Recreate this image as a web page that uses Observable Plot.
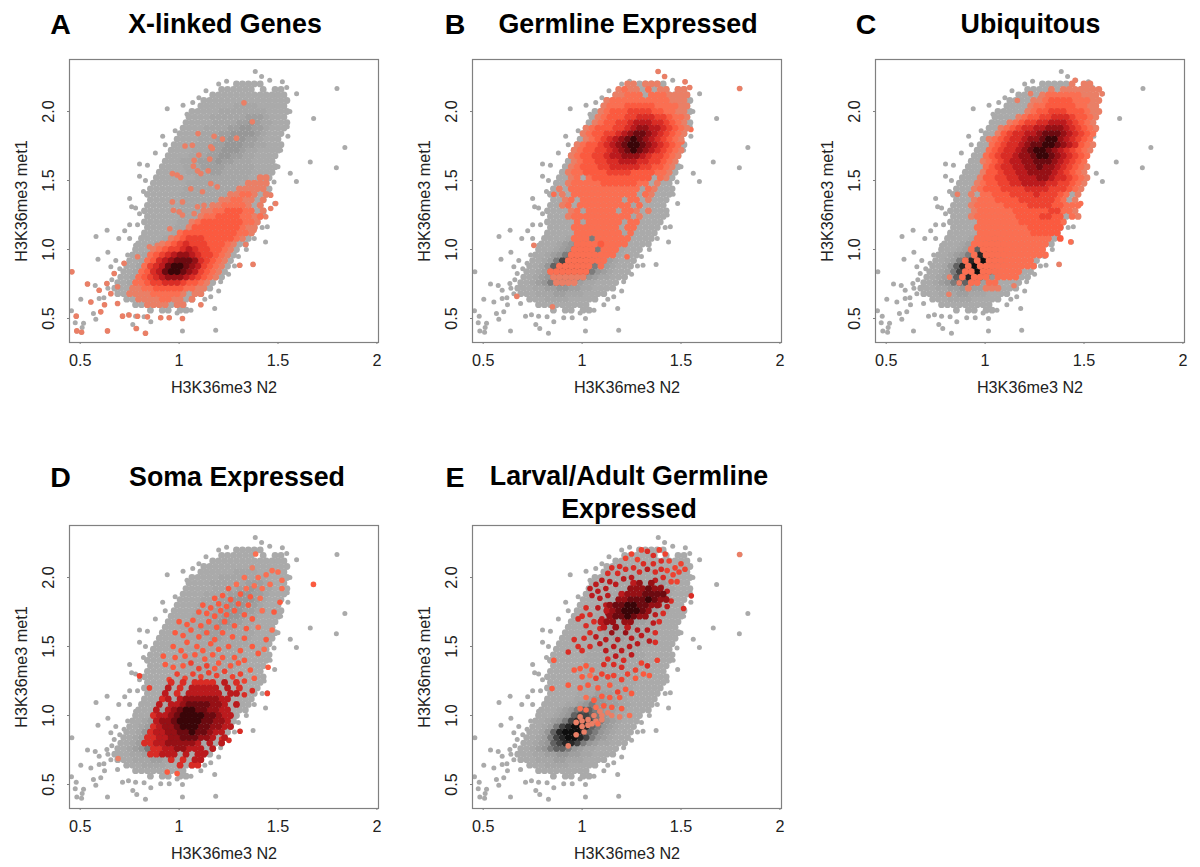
<!DOCTYPE html>
<html><head><meta charset="utf-8">
<script src="https://cdn.jsdelivr.net/npm/d3@7"></script>
<script src="https://cdn.jsdelivr.net/npm/@observablehq/plot@0.6"></script>
<style>
html,body{margin:0;padding:0;background:#fff;overflow:hidden}
#page{position:relative;width:1200px;height:867px;font-family:"Liberation Sans",Arial,sans-serif}
.t{position:absolute;font-weight:bold;font-size:26.8px;line-height:33px;color:#000;white-space:pre;transform:translate(-50%,-50%);text-align:center}
.l{font-size:28.5px}
#page svg{position:absolute;overflow:visible}
</style></head><body><div id="page"></div>
<script>
const xTicks=[0.5,1,1.5,2], yTicks=[0.5,1,1.5,2];
const xLabel="H3K36me3 N2", yLabel="H3K36me3 met1";
const panelLetters=["A","B","C","D","E"];
const panelTitles=["X-linked Genes","Germline Expressed","Ubiquitous","Soma Expressed","Larval/Adult Germline\nExpressed"];
const grayColors=["#aaaaaa","#a6a6a6","#9f9f9f","#979797","#7c7c7c","#626262","#444444","#262626","#0e0e0e"];
const redColors=["#ea7f66","#fa6f52","#fb5a3f","#ee4230","#d92c25","#bb1a1d","#961015","#6c0a10","#3a0508"];

// density rows: [y, first x, one level per 0.03 of x]
const baseRows=[
[.56,.855,"1011011"],[.60,.78,"111111111"],[.64,.735,"111222211111"],[.68,.69,"111222332221111"],
[.72,.675,"11122334433221111"],[.76,.69,"11234566543221111"],[.80,.705,"112346788754322111"],
[.84,.72,"112357899875432111"],[.88,.735,"112468999865432111"],[.92,.75,"112357899865432111"],
[.96,.765,"112345788765432111"],[1.00,.78,"111234677654322111"],[1.04,.795,"1112345665433221111"],
[1.08,.81,"1111223454433221111"],[1.12,.825,"1111122344332211111"],[1.16,.84,"1111122233322211111"],
[1.20,.825,"11111122222222211111"],[1.24,.84,"11111122222222211111"],[1.28,.825,"111111222222222211111"],
[1.32,.84,"11111122222222211111"],[1.36,.855,"11111122222222211111"],[1.40,.84,"111111222222222211111"],
[1.44,.855,"111111222222222211111"],[1.48,.87,"11111122222222211111"],[1.52,.885,"11111112222222221111"],
[1.56,.90,"11111222233222221111"],[1.60,.915,"11112223333222221111"],[1.64,.93,"1112223334332221111"],
[1.68,.945,"1111222334433221111"],[1.72,.96,"1111222334443221111"],[1.76,.975,"1111222334443322111"],
[1.80,.99,"111122233444332111"],[1.84,1.005,"111122233444432111"],[1.88,1.02,"111122223344332111"],
[1.92,1.035,"111112222334322111"],[1.96,1.05,"11112222223332111"],[2.00,1.065,"11111222222221111"],
[2.04,1.11,"111111222211111"],[2.08,1.125,"111111111111111"],[2.12,1.17,"1111111111111"],
[2.16,1.215,"11111101011"],[2.20,1.29,"11111"]];
const baseDots=[
[1.798,2.167],[1.795,1.592],[1.838,1.739],[1.68,1.95],[1.663,1.635],[1.594,2.128],[1.562,1.553],[1.593,1.493],
[1.385,2.29],[1.417,2.254],[1.458,2.227],[1.522,2.215],[1.544,2.174],[1.2,2.2],[1.136,2.15],[1.069,2.065],
[1.02,2.046],[.94,2.02],[.917,1.82],[.8,1.62],[.84,1.61],[.8,1.53],[.76,1.31],[.75,1.37],[.8,1.26],[.75,1.18],
[.636,1.14],[.58,1.094],[.725,1.135],[.695,1.08],[.75,1.08],[.78,1.03],[.64,.98],[.59,.93],[.68,.92],[.655,.875],
[.458,.838],[.537,.75],[.576,.74],[.596,.705],[.635,.754],[.503,.64],[.554,.62],[.623,.6],[.596,.645],[.567,.536],
[.604,.548],[.579,.495],[.456,.556],[.48,.517],[.475,.47],[.517,.465],[.51,.435],[.483,.41],[.507,.4],[.638,.41],
[.766,.457],[.786,.427],[.83,.393],[.857,.476],[.714,.517],[.744,.528],[.78,.516],[.823,.512],[.907,.505],[.95,.505],
[1.017,.5],[1.017,.41],[1.185,.415],[1.18,.572],[1.11,.6],[1.16,.657],[1.21,.766],[1.25,.82],[1.308,.886],[1.374,.892],
[1.437,1.055],[1.42,1.16],[1.446,1.165],[1.483,1.333],[1.48,1.49],[1.547,1.89],[1.513,1.72],[.672,.826],[.689,.73],
[.655,.68],[.689,.609],[.722,.9],[.79,.947],[.66,.78],[.64,.72],[.62,.65],[.7,.86],[.74,.96],[.82,1.1],[.79,1.18],
[.78,1.3],[.82,1.42],[.83,1.5],[.88,1.7],[.93,1.76],[.98,1.86],[1.04,1.98],[1.1,2.1],[1.24,2.22],[1.48,2.12],[1.56,2.0],
[1.55,1.82],[1.5,1.6],[1.46,1.4],[1.43,1.25],[1.38,1.08],[1.34,1.0],[1.3,.95],[1.28,.88],[1.2,.7],[1.13,.64],[1.06,.56],[.99,.54]];

const rowsA=[
[.60,.84,"1111011"],[.64,.795,"1111221101"],[.68,.75,"1111222221011"],[.72,.765,"1122333332211"],
[.76,.78,"2234455543321"],[.80,.795,"23456777654321"],[.84,.81,"23568998764321"],[.88,.825,"24568998764321"],
[.92,.84,"23567888754321"],[.96,.855,"23456776544321"],[1.00,.87,"12344565443321"],[1.04,.915,"1234544433321"],
[1.08,.96,"1234443333321"],[1.12,1.005,"2333333333221"],[1.16,1.05,"133333333211"],[1.20,1.065,"123333333221"],
[1.24,1.11,"12233332212"],[1.28,1.125,"11223332201"],[1.32,1.17,"112222101"],[1.36,1.215,"11221101"],
[1.40,1.26,"1122101"],[1.44,1.305,"11111"],[1.48,1.35,"1111"],[1.52,1.41,"11"]];
const dotsA=[
[1.328,2.063,1],[1.37,1.925,1],[1.29,1.807,1],[1.219,1.8,1],[1.177,1.82,1],[1.096,1.84,1],[1.03,1.75,1],[1.067,1.756,1],
[1.16,1.744,1],[1.168,1.732,1],[1.1,1.684,1],[1.155,1.655,1],[1.076,1.647,1],[1.072,1.604,1],[1.093,1.57,1],[1.11,1.55,1],
[1.147,1.57,1],[.966,1.55,1],[.99,1.54,1],[1.008,1.522,1],[1.059,1.44,1],[1.118,1.418,1],[1.16,1.478,1],[1.193,1.454,1],
[.966,1.345,1],[1.017,1.345,1],[.971,1.285,1],[1,1.273,1],[1.017,1.25,1],[1.093,1.31,1],[1.126,1.32,1],[1.076,1.26,1],
[.953,1.15,1],[1.463,1.297,1],[1.488,1.333,1],[1.463,1.394,1],[1.438,1.237,1],[1.379,1.14,1],[1.337,1.036,1],[1.306,.886,1],
[1.374,.892,1],[.458,.838,1],[.48,.517,1],[.483,.41,1],[.507,.4,1],[.638,.41,1],[.783,.427,1],[.83,.393,1],[.554,.62,1],
[.537,.75,1],[.596,.705,1],[.635,.754,1],[.623,.6,1],[.604,.548,1],[.714,.517,1],[.747,.525,1],[.79,.516,1],[.84,.512,1],
[.907,.505,1],[.95,.505,1],[1.017,.5,1],[1.11,.6,1],[.672,.826,1],[.689,.73,1],[.655,.68,1],[.689,.609,1],[.722,.9,1],
[.79,.947,1],[.85,1.02,1],[.89,1.03,1]];

const rowsB=[
[.76,.87,"1111"],[.80,.855,"111111"],[.84,.84,"2222222"],[.88,.885,"22222202"],[.92,.93,"2222222"],[.96,.945,"22222222"],
[1.00,.96,"22220222"],[1.04,.975,"222232222"],[1.08,.96,"2220222222"],[1.12,.975,"2222222202"],[1.16,.96,"22222222022"],
[1.20,.975,"20222222022"],[1.24,.93,"1222222222201"],[1.28,.945,"12022222022101"],[1.32,.90,"12022222222202"],
[1.36,.915,"120222222202201"],[1.40,.90,"1022222222222021"],[1.44,.885,"10222222222222021"],[1.48,.93,"1222223333332201"],
[1.52,.945,"12023333333333021"],[1.56,.93,"122333344443333221"],[1.60,.945,"123334455555443321"],[1.64,.96,"123344556665544321"],
[1.68,.945,"1233445667776544321"],[1.72,.96,"1233445678987654321"],[1.76,.975,"123345678998765432"],[1.80,1.02,"12345678987654321"],
[1.84,1.005,"123344567887654321"],[1.88,1.02,"123334456776654321"],[1.92,1.065,"1233445666554321"],[1.96,1.08,"1233344555443221"],
[2.00,1.095,"123334444332211"],[2.04,1.11,"122233333222211"],[2.08,1.125,"12222222222111"],[2.12,1.17,"1122202221111"],
[2.16,1.185,"121102011011"],[2.20,1.23,"110111"]];
const dotsB=[[1.796,2.167,1],[1.384,2.29,1],[1.417,2.254,1],[1.52,2.215,1],[1.544,2.174,1],[1.55,1.87,2],[1.505,1.78,2],[.756,1.03,1],[.67,.66,1],[.85,.585,1],[1.227,.947,2],[.857,1.40,2]];

const rowsC=[
[.72,.915,"100111"],[.76,.93,"22022"],[.80,.885,"2022202222"],[.84,.90,"2202222222"],[.88,.915,"202222222222"],[.92,.90,"202022222222"],
[.96,.945,"2022222222222"],[1.00,.93,"2022222222222"],[1.04,.945,"2222222222222"],[1.08,.96,"222222222222203"],[1.12,.975,"22222222233333"],
[1.16,.96,"222222222333333"],[1.20,.975,"2222222333333320"],[1.24,.93,"1222222233334433021"],[1.28,.945,"122222233333344221"],
[1.32,.93,"1222223333444433222"],[1.36,.945,"122233334444443201"],[1.40,.93,"1022333444454443201"],[1.44,.945,"1233344445555444321"],
[1.48,.96,"1233445566665544321"],[1.52,.975,"1334455666776554321"],[1.56,.99,"133455667777654321"],[1.60,1.005,"234556677877654321"],
[1.64,.99,"123456677888765432"],[1.68,1.005,"234556778998765432"],[1.72,1.02,"234556789987654321"],[1.76,1.035,"234556788998765321"],
[1.80,1.02,"123455677899765432"],[1.84,1.065,"13455667888765432"],[1.88,1.08,"12345566777654321"],[1.92,1.125,"123445566654321"],
[1.96,1.17,"12334455543321"],[2.00,1.215,"1233444333211"],[2.04,1.23,"122333332211"],[2.08,1.245,"112333322211"],[2.12,1.29,"1222222111"],
[2.16,1.335,"101111111"],[2.20,1.44,"1011"]];
const dotsC=[[1.591,2.128,1],[1.455,2.227,1],[1.374,.892,1],[1.433,1.055,2],[1.483,1.333,2],[1.478,1.49,3],[.86,1.40,1],[.817,.676,1],[1.146,.737,1],[.82,.8,1],[.869,.758,1],[1.559,1.87,2],[1.163,2.08,1],[1.23,2.13,1],[1.28,2.1,1],[1.33,2.13,1]];

const rowsD=[
[.64,1.005,"5055"],[.68,.96,"505066"],[.72,.855,"5566606066"],[.76,.87,"55667766606"],[.80,.825,"55667777760606"],[.84,.84,"55667788877606"],
[.88,.855,"56677889887660"],[.92,.87,"56778999887766"],[.96,.885,"6778999988776"],[1.00,.87,"56678999988766"],[1.04,.885,"6067899887766"],
[1.08,.90,"60667888877606"],[1.12,.915,"5606777777660"],[1.16,.93,"6050666666066"],[1.20,.945,"60506666606050"],[1.24,.96,"5050555506050"]];
const dotsD=[[1.679,1.95,3],[1.446,1.16,4],[1.308,.886,5],[1.252,.82,5],[1.215,.83,5],[1.135,.73,6],[.692,.688,1],[.94,.59,3],[.99,.58,3],[.8,1.287,4],[.85,1.2,4],[1.387,2.17,2],[1.45,1.35,3],[1.33,1.15,5],[1.37,1.18,5],
[.95,1.26,4],[.99,1.3,4],[1.03,1.27,4],[1.07,1.3,4],[1.11,1.28,4],[1.15,1.31,4],[1.19,1.29,4],[1.23,1.32,4],[1.27,1.28,4],[1.31,1.3,4],[1.36,1.33,3],[1.33,1.25,4],[1.38,1.27,3],[.97,1.35,3],[1.02,1.36,3],[1.06,1.38,4],[1.1,1.34,4],[1.14,1.36,4],[1.18,1.34,3],[1.2,1.38,3],[1.26,1.36,3],[1.3,1.38,3],[.93,1.37,3],[.92,1.43,3],[.98,1.42,3],[1.03,1.43,3],[1.08,1.44,3],[1.13,1.41,3],[1.17,1.44,3],[1.22,1.42,3],[1.28,1.42,3],[1.33,1.4,3],
[.97,1.5,3],[1.01,1.47,3],[1.04,1.53,3],[1.09,1.5,3],[1.12,1.47,3],[1.16,1.52,3],[1.2,1.48,3],[1.25,1.5,3],[1.31,1.47,3],[1.37,1.5,3],[1.4,1.45,3],[.98,1.6,3],[1.02,1.58,3],[1.06,1.62,3],[1.1,1.57,3],[1.14,1.6,3],[1.18,1.55,3],[1.22,1.6,3],[1.27,1.57,3],[1.33,1.56,3],[1.44,1.55,3],[1.43,1.48,2],[1,1.68,3],[1.04,1.66,3],[1.07,1.69,3],[1.11,1.65,3],[1.15,1.68,3],[1.19,1.64,3],[1.23,1.68,3],[1.28,1.65,3],[1.34,1.63,3],[1.4,1.64,2],[1.47,1.62,2],
[1.1,1.75,3],[1.14,1.74,3],[1.18,1.72,3],[1.21,1.76,3],[1.24,1.73,3],[1.28,1.76,3],[1.33,1.73,3],[1.37,1.7,3],[1.12,1.8,3],[1.16,1.78,3],[1.2,1.81,3],[1.24,1.79,3],[1.3,1.81,3],[1.35,1.8,3],[1.42,1.76,2],[1.48,1.75,3],[1.51,1.82,3],[1.18,1.85,3],[1.22,1.87,3],[1.26,1.84,3],[1.31,1.88,3],[1.36,1.86,3],[1.41,1.85,2],[1.25,1.92,3],[1.29,1.95,2],[1.34,1.92,2],[1.38,1.94,2],[1.42,1.92,2],[1.46,1.95,2],[1.52,1.92,2],[1.33,2.0,2],[1.4,2.0,2],[1.44,2.02,2],[1.47,2.05,2],[1.5,2.04,2],[1.52,1.98,2],[1.37,2.07,1]];

const rowsE=[
[1.64,1.11,"607060"],[1.68,1.095,"6770770"],[1.72,1.14,"7889877"],[1.76,1.125,"67899987"],[1.80,1.14,"7889988770"],[1.84,1.185,"7788898770"],[1.88,1.2,"67778888"],[1.92,1.245,"777877"],[1.96,1.26,"6707"]];
const dotsE=[[1.796,2.167,1],[1.552,1.867,5],[1.513,1.775,5],[.857,1.4,3],[.848,1.195,3],
[1.22,2.14,4],[1.25,2.17,4],[1.28,2.13,4],[1.3,2.2,4],[1.33,2.19,5],[1.36,2.16,5],[1.39,2.2,4],[1.42,2.17,4],[1.31,2.1,5],[1.36,2.1,5],[1.4,2.12,5],[1.44,2.12,4],[1.47,2.07,4],[1.5,2.1,4],[1.46,2.02,4],[1.49,2.04,4],[1.52,2.06,4],[1.43,2.05,4],[1.19,2.08,5],[1.15,2.07,5],[1.13,2.03,5],[1.18,2.03,5],[1.22,2.06,5],[1.26,2.07,5],[1.29,2.04,5],[1.33,2.06,6],[1.37,2.04,5],[1.4,2.06,5],[1.41,2.0,5],[1.45,1.97,4],[1.48,1.97,4],[1.37,1.98,6],
[1.07,1.95,6],[1.1,1.98,6],[1.14,1.97,6],[1.04,1.92,6],[1.08,1.9,6],[1.12,1.92,6],[1.17,1.95,6],[1.21,1.99,6],[1.25,2.0,6],[1.05,1.87,6],[1.09,1.85,6],[1.13,1.87,6],[1.02,1.78,5],[1.0,1.72,5],[.98,1.7,5],[1.04,1.73,5],[1.08,1.78,6],[1.12,1.8,6],[1.06,1.68,5],[1.1,1.7,6],[1.13,1.74,7],[1.02,1.65,5],[1.09,1.63,5],
[1.4,1.93,6],[1.43,1.9,6],[1.38,1.88,6],[1.42,1.85,6],[1.45,1.83,5],[1.39,1.8,6],[1.43,1.79,6],[1.37,1.73,6],[1.41,1.74,5],[1.36,1.67,6],[1.39,1.68,5],[1.33,1.62,6],[1.37,1.6,5],[1.3,1.58,6],[1.34,1.54,6],[1.37,1.53,5],
[.96,1.55,5],[.98,1.5,5],[1.01,1.56,5],[1.04,1.6,5],[1.07,1.57,6],[1.04,1.5,5],[1.0,1.47,5],[1.09,1.52,6],[1.12,1.55,6],[1.15,1.6,7],[1.18,1.55,6],[1.22,1.6,7],[1.25,1.56,6],[1.28,1.62,6],[1.12,1.47,6],[1.16,1.5,6],[1.2,1.47,6],[1.24,1.5,6],[1.28,1.52,6],[1.13,1.41,5],[1.17,1.43,6],[1.21,1.4,5],[1.25,1.44,6],[1.11,1.37,5],[1.16,1.37,5],[1.2,1.35,5],[1.27,1.33,4],[1.3,1.38,4],[1.33,1.36,5],[1.38,1.4,4],[.93,1.46,5],
[.96,1.33,3],[.99,1.34,3],[1.02,1.36,3],[1.05,1.33,3],[1.0,1.28,3],[1.04,1.29,2],[1.07,1.27,4],[1.1,1.3,4],[1.13,1.28,4],[1.16,1.29,4],[1.2,1.26,4],[1.23,1.3,4],[1.27,1.27,3],[1.31,1.3,3],[1.34,1.29,3],[.93,1.22,3],[.99,1.2,3],[1.03,1.22,3],[1.08,1.2,3],[1.14,1.22,3],[1.18,1.17,4],[1.22,1.19,3],[1.25,1.16,3],[1.02,1.13,2],[1.06,1.11,3],[1.1,1.14,3],[1.14,1.13,3],[1.19,1.13,3],[1.07,1.06,2],[1.11,1.07,3],[1.15,1.06,3],[1.2,1.05,3],[1.24,1.0,2],[1.19,.99,1],[.99,1.05,2],[1.02,1.04,2],
[1.06,1.0,1],[1.1,1.0,1],[1.07,.96,1],[1.1,.97,1],[1.13,1.02,1],[1.15,1.0,1],[1.03,.97,1],[1.0,.96,1],[.99,.99,1],[1.03,.93,1],[1.0,.92,1],[1.01,.88,1],[.97,.86,1],[.93,.78,1],[.97,.95,1],[1.09,1.03,1],[1.05,.94,1],[1.08,.94,2]];

const panelRows=[rowsA,rowsB,rowsC,rowsD,rowsE];
const panelDots=[dotsA,dotsB,dotsC,dotsD,dotsE];
const boxLeft=[68.7,471.7,875.3,68.7,471.7], boxTop=[59.3,59.3,59.3,525.3,525.3];
const titleX=[225,628,1030.5,237,629], titleY=[24,24,24,477,493];
const letterX=[60.5,455,866,60.5,455], letterY=[24,24,24,477,477];

const expand=(rows,prefix)=>rows.flatMap(([y,x0,s])=>[...s].flatMap((c,i)=>c==="0"?[]:[{x:x0+.03*i,y,k:prefix+c,l:+c}]));
const page=document.getElementById("page");
const gKeys=grayColors.map((_,i)=>"g"+(i+1)), rKeys=redColors.map((_,i)=>"r"+(i+1));
const baseCells=expand(baseRows,"g").sort((a,b)=>a.l-b.l);
const baseSingles=baseDots.map(([x,y])=>({x,y,k:"g1"}));
const mL=70,mR=10,mT=10,mB=60,W=309,H=283;

panelLetters.forEach((L,i)=>{
  const cells=expand(panelRows[i],"r").sort((a,b)=>a.l-b.l);
  const singles=panelDots[i].map(([x,y,l])=>({x,y,k:"r"+l,l})).sort((a,b)=>a.l-b.l);
  const svg=Plot.plot({
    width:W+mL+mR,height:H+mT+mB,marginLeft:mL,marginRight:mR,marginTop:mT,marginBottom:mB,
    style:{fontFamily:'"Liberation Sans",Arial,sans-serif',fontSize:"16.2px",background:"transparent",color:"#222"},
    x:{domain:[.446,2.008]},
    y:{domain:[.326,2.377]},
    color:{type:"ordinal",domain:[...gKeys,...rKeys],range:[...grayColors,...redColors]},
    marks:[
      Plot.dot(baseSingles,{x:"x",y:"y",r:2.5,fill:"k"}),
      Plot.dot(baseCells,{x:"x",y:"y",r:3.4,fill:"k"}),
      Plot.dot(singles,{x:"x",y:"y",r:2.8,fill:"k"}),
      Plot.dot(cells,{x:"x",y:"y",r:3.4,fill:"k"}),
      Plot.frame({stroke:"#808080",strokeWidth:1.2}),
      Plot.axisX({ticks:xTicks,tickFormat:d=>String(d),tickSize:2,tickPadding:10,stroke:"#808080",label:xLabel,labelAnchor:"center",labelArrow:"none",labelOffset:50}),
      Plot.axisY({ticks:yTicks,tickFormat:d=>d3.format(".1f")(d),tickSize:2,tickPadding:14,tickRotate:-90,stroke:"#808080",label:yLabel,labelAnchor:"center",labelArrow:"none",labelOffset:54})
    ]
  });
  svg.style.left=(boxLeft[i]-mL)+"px";
  svg.style.top=(boxTop[i]-mT)+"px";
  page.appendChild(svg);
  const a=document.createElement("div");a.className="t l";a.textContent=L;a.style.left=letterX[i]+"px";a.style.top=letterY[i]+"px";page.appendChild(a);
  const t=document.createElement("div");t.className="t";t.style.left=titleX[i]+"px";t.style.top=titleY[i]+"px";t.textContent=panelTitles[i];page.appendChild(t);
});
</script></body></html>
